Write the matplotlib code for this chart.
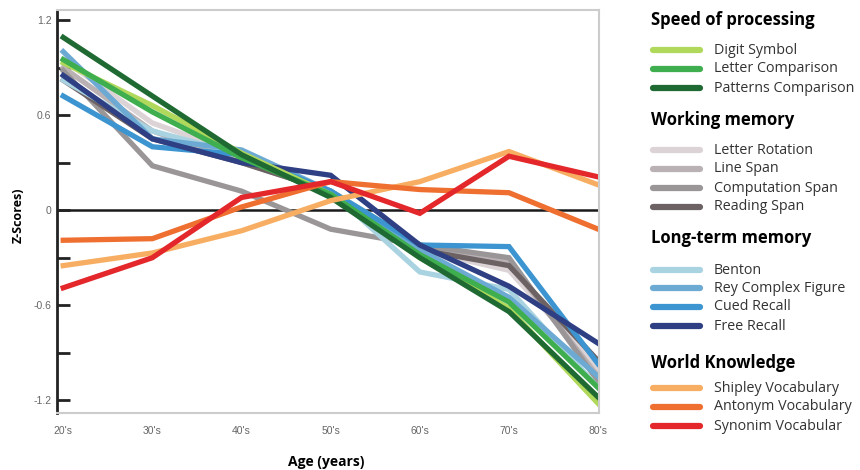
import matplotlib
matplotlib.use("Agg")
from matplotlib import pyplot as plt
from matplotlib.lines import Line2D

# age groups
ages = ["20's", "30's", "40's", "50's", "60's", "70's", "80's"]

# speed of processing
digit_symbol = [0.93, 0.66, 0.36, 0.10, -0.30, -0.62, -1.22]
letter_comparison = [0.95, 0.62, 0.33, 0.10, -0.28, -0.58, -1.12]
patterns_comparison = [1.09, 0.72, 0.35, 0.08, -0.30, -0.64, -1.18]

# working memory
letter_rotation = [0.95, 0.55, 0.35, 0.12, -0.25, -0.38, -1.00]
line_span = [0.90, 0.50, 0.30, 0.12, -0.22, -0.33, -1.05]
computation_span = [0.88, 0.28, 0.12, -0.12, -0.22, -0.30, -1.08]
reading_span = [0.82, 0.45, 0.30, 0.12, -0.25, -0.35, -0.95]

# long-term memory
benton = [0.82, 0.50, 0.35, 0.12, -0.39, -0.50, -1.12]
rey_complex = [1.00, 0.45, 0.38, 0.12, -0.25, -0.55, -1.05]
cued_recall = [0.72, 0.40, 0.35, 0.12, -0.22, -0.23, -0.97]
free_recall = [0.85, 0.45, 0.30, 0.22, -0.22, -0.48, -0.84]

# world knowledge
shipley = [-0.35, -0.27, -0.13, 0.06, 0.18, 0.37, 0.16]
antonym = [-0.19, -0.18, 0.02, 0.18, 0.13, 0.11, -0.12]
synonim = [-0.49, -0.30, 0.08, 0.18, -0.02, 0.34, 0.21]

groups = [
    ("Speed of processing", [
        ("Digit Symbol", digit_symbol, "#b0d85a"),
        ("Letter Comparison", letter_comparison, "#3fae4f"),
        ("Patterns Comparison", patterns_comparison, "#1f6a32"),
    ]),
    ("Working memory", [
        ("Letter Rotation", letter_rotation, "#dcd3d6"),
        ("Line Span", line_span, "#b9b1b4"),
        ("Computation Span", computation_span, "#9a9596"),
        ("Reading Span", reading_span, "#6c6264"),
    ]),
    ("Long-term memory", [
        ("Benton", benton, "#a9d3e0"),
        ("Rey Complex Figure", rey_complex, "#6caad4"),
        ("Cued Recall", cued_recall, "#3c95d0"),
        ("Free Recall", free_recall, "#2f3f84"),
    ]),
    ("World Knowledge", [
        ("Shipley Vocabulary", shipley, "#f7ae62"),
        ("Antonym Vocabulary", antonym, "#ee6f30"),
        ("Synonim Vocabular", synonim, "#e3272a"),
    ]),
]

fig = plt.figure(figsize=(8.6, 4.7), dpi=100)
ax = fig.add_axes([57 / 860, 57 / 470, 542 / 860, 403 / 470])

x = range(len(ages))
ax.axhline(0, color="#1a1a1a", lw=1.8, zorder=1)

draw_order = [1, 2, 0, 3]
for gi in draw_order:
    for name, vals, col in groups[gi][1]:
        ax.plot(x, vals, color=col, lw=3.8, solid_joinstyle="miter", zorder=2)

ax.set_xlim(-0.07, 6.01)
ax.set_ylim(-1.28, 1.263)
ax.set_xticks(list(x))
ax.set_xticklabels(ages)
ax.set_yticks([-1.2, -0.6, 0, 0.6, 1.2])
ax.set_yticklabels(["-1.2", "-0.6", "0", "0.6", "1.2"])
ax.set_yticks([-0.9, -0.3, 0.3, 0.9], minor=True)
ax.tick_params(axis="y", which="both", direction="in", length=9, width=2,
               color="#222222", labelsize=7.5, labelcolor="#666666", pad=4)
ax.tick_params(axis="x", length=0, labelsize=7.5, labelcolor="#666666", pad=9)
for lab in ax.get_xticklabels() + ax.get_yticklabels():
    lab.set_family("Liberation Sans")

ax.spines["left"].set_color("#222222")
ax.spines["left"].set_linewidth(2)
for s in ["top", "right", "bottom"]:
    ax.spines[s].set_color("#cccccc")
    ax.spines[s].set_linewidth(1.5)

fig.text(18 / 860, 1 - 215 / 470, "Z-Scores)", rotation=90, ha="center", va="center",
         fontsize=9, fontweight="bold", family="Open Sans")
fig.text(326 / 860, 1 - 462 / 470, "Age (years)", ha="center", va="center",
         fontsize=10, fontweight="bold", family="Open Sans")

# legend built by hand
head_y = [20, 120, 238, 363]
item_y = [[50, 69, 88], [150, 169, 188, 207], [270, 288, 307, 326], [388, 407, 426]]
for (title, items), hy, iys in zip(groups, head_y, item_y):
    fig.text(651 / 860, 1 - hy / 470, title, ha="left", va="center",
             fontsize=12, fontweight="bold", family="Open Sans")
    for (name, vals, col), iy in zip(items, iys):
        yy = 1 - iy / 470
        fig.add_artist(Line2D([653 / 860, 700 / 860], [yy, yy], color=col, lw=4.5,
                              solid_capstyle="round"))
        fig.text(714 / 860, yy, name, ha="left", va="center", fontsize=10.3,
                 family="Open Sans", color="#333333")

fig.savefig("out.png", dpi=100)
